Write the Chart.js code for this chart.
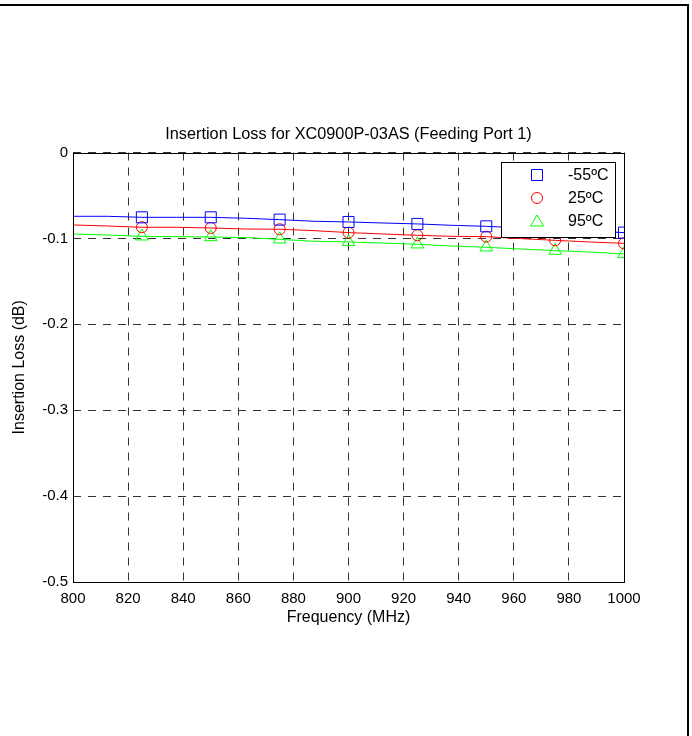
<!DOCTYPE html>
<html>
<head>
<meta charset="utf-8">
<title>Insertion Loss for XC0900P-03AS</title>
<script src="https://cdn.jsdelivr.net/npm/chart.js@4.4.0/dist/chart.umd.min.js"></script>
<style>
  html, body { margin: 0; padding: 0; background: #fff; }
  canvas { display: block; }
</style>
</head>
<body>
<canvas id="lossChart" width="692" height="736"></canvas>
<script>
// values
const freqs   = [800, 812.5, 825, 837.5, 850, 862.5, 875, 887.5, 900, 912.5, 925, 937.5, 950, 962.5, 975, 987.5, 1000];
const lossM55 = [-0.0742, -0.0742, -0.0754, -0.0754, -0.0754, -0.0765, -0.0781, -0.0800, -0.0808, -0.0820, -0.0831, -0.0847, -0.0859, -0.0877, -0.0895, -0.0913, -0.0932];
const loss25  = [-0.0843, -0.0855, -0.0870, -0.0870, -0.0878, -0.0890, -0.0893, -0.0909, -0.0932, -0.0948, -0.0963, -0.0975, -0.0979, -0.1002, -0.1022, -0.1041, -0.1057];
const loss95  = [-0.0948, -0.0960, -0.0975, -0.0979, -0.0983, -0.0990, -0.1010, -0.1033, -0.1041, -0.1053, -0.1068, -0.1088, -0.1103, -0.1123, -0.1142, -0.1158, -0.1181];
const markerFreqs = [825, 850, 875, 900, 925, 950, 975, 1000];
const legendLabels = ['-55ºC', '25ºC', '95ºC'];
const xTicks = [800, 820, 840, 860, 880, 900, 920, 940, 960, 980, 1000];
const yTicks = [0, -0.1, -0.2, -0.3, -0.4, -0.5];

const series = [
  { values: lossM55, color: '#0000ff', marker: 'rect',     radius: 7.8 },
  { values: loss25,  color: '#ff0000', marker: 'circle',   radius: 5.5 },
  { values: loss95,  color: '#00ff00', marker: 'triangle', radius: 7.3 }
];

function toPoints(xs, ys){ return xs.map((x, i) => ({ x: x, y: ys[i] })); }
function markerPoints(ys){
  return markerFreqs.map(f => ({ x: f, y: ys[freqs.indexOf(f)] }));
}

const datasets = [];
series.forEach(s => {
  datasets.push({
    data: toPoints(freqs, s.values),
    borderColor: s.color, borderWidth: 1, pointRadius: 0, tension: 0, fill: false
  });
});
series.forEach((s, i) => {
  datasets.push({
    label: legendLabels[i],
    data: markerPoints(s.values),
    showLine: false,
    pointStyle: s.marker, pointRadius: s.radius, pointBorderWidth: 1,
    pointBorderColor: s.color, pointBackgroundColor: 'rgba(0,0,0,0)'
  });
});

function drawMarker(ctx, style, x, y, color){
  ctx.save();
  ctx.strokeStyle = color;
  ctx.lineWidth = 1;
  ctx.beginPath();
  if(style === 'rect'){ ctx.rect(x - 5.5, y - 5.5, 11, 11); }
  else if(style === 'circle'){ ctx.arc(x, y, 5.5, 0, Math.PI * 2); }
  else { ctx.moveTo(x, y - 6); ctx.lineTo(x + 6.5, y + 5); ctx.lineTo(x - 6.5, y + 5); ctx.closePath(); }
  ctx.stroke();
  ctx.restore();
}

// white page, axes box, in-plot legend and the page frame lines
const framePlugin = {
  id: 'framePlugin',
  beforeDraw(chart){
    const ctx = chart.ctx;
    ctx.save();
    ctx.fillStyle = '#fff';
    ctx.fillRect(0, 0, chart.width, chart.height);
    ctx.restore();
  },
  afterDatasetsDraw(chart){
    const ctx = chart.ctx;
    const a = chart.chartArea;
    ctx.save();
    ctx.strokeStyle = '#000';
    ctx.lineWidth = 1;
    ctx.strokeRect(Math.round(a.left) + 0.5, Math.round(a.top) + 0.5,
                   Math.round(a.right - a.left), Math.round(a.bottom - a.top));

    // legend box
    const bw = 114, bh = 75;
    const bx = Math.round(a.right) - 9 - bw, by = Math.round(a.top) + 9;
    ctx.fillStyle = '#fff';
    ctx.fillRect(bx, by, bw, bh);
    ctx.strokeRect(bx + 0.5, by + 0.5, bw, bh);
    ctx.font = "16px 'Liberation Sans', Arial, sans-serif";
    ctx.fillStyle = '#000';
    ctx.textBaseline = 'middle';
    ctx.textAlign = 'left';
    series.forEach((s, i) => {
      const ry = by + 13 + i * 23;
      drawMarker(ctx, s.marker, bx + 36, ry, s.color);
      ctx.fillText(legendLabels[i], bx + 67, ry + 1);
    });
    ctx.restore();
  },
  afterDraw(chart){
    const ctx = chart.ctx;
    ctx.save();
    ctx.fillStyle = '#000';
    ctx.fillRect(0, 4, 689, 2);
    ctx.fillRect(687, 4, 2, chart.height - 4);
    ctx.restore();
  }
};

Chart.defaults.font.family = "'Liberation Sans', Arial, sans-serif";
Chart.defaults.color = '#000';

const chart = new Chart(document.getElementById('lossChart').getContext('2d'), {
  type: 'line',
  data: { datasets: datasets },
  options: {
    responsive: false,
    animation: false,
    devicePixelRatio: 1,
    layout: { padding: { top: 125, left: 10, right: 68, bottom: 109 } },
    plugins: {
      legend: { display: false },
      tooltip: { enabled: false },
      title: {
        display: true,
        fullSize: false,
        text: 'Insertion Loss for XC0900P-03AS (Feeding Port 1)',
        font: { size: 16.3, weight: 'normal' },
        color: '#000',
        padding: { top: 0, bottom: 8 }
      }
    },
    scales: {
      x: {
        type: 'linear', min: 800, max: 1000,
        afterFit(scale){ scale.height = 45; },
        afterBuildTicks(scale){ scale.ticks = xTicks.map(v => ({ value: v })); },
        ticks: { font: { size: 15 }, padding: 8, maxRotation: 0, autoSkip: false, callback: v => String(v) },
        grid: { color: '#333', lineWidth: 1, drawTicks: false, tickLength: 0 },
        border: { display: false, dash: [8, 7] },
        title: { display: true, text: 'Frequency (MHz)', font: { size: 16 }, padding: 0 }
      },
      y: {
        type: 'linear', min: -0.5, max: 0,
        afterFit(scale){ scale.width = 63; },
        afterBuildTicks(scale){ scale.ticks = yTicks.map(v => ({ value: v })); },
        ticks: { font: { size: 15 }, padding: 5, callback: v => String(Number(v.toFixed(1))) },
        grid: { color: '#333', lineWidth: 1, drawTicks: false, tickLength: 0 },
        border: { display: false, dash: [8, 7] },
        title: { display: true, text: 'Insertion Loss (dB)', font: { size: 16 }, padding: 0 }
      }
    }
  },
  plugins: [framePlugin]
});
</script>
</body>
</html>
